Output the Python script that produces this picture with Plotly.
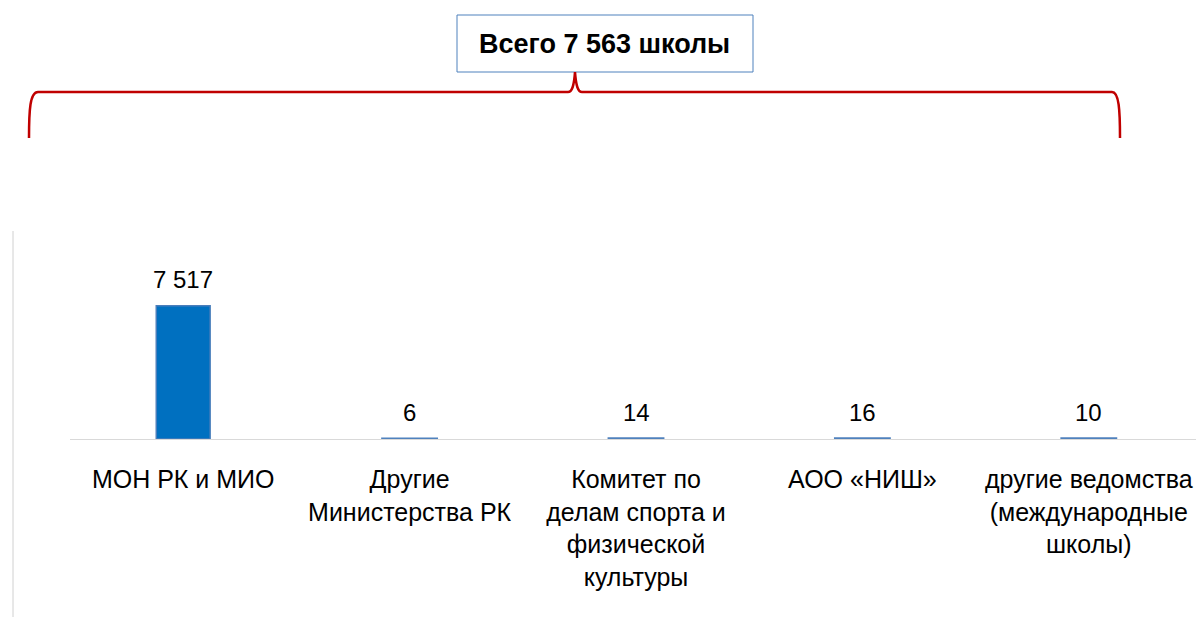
import plotly.graph_objects as go

categories = [
    "МОН РК и МИО",
    "Другие<br>Министерства РК",
    "Комитет по<br>делам спорта и<br>физической<br>культуры",
    "АОО «НИШ»",
    "другие ведомства<br>(международные<br>школы)",
]
values = [7517, 6, 14, 16, 10]
total_label = "Всего 7 563 школы"

# page has an 8px body margin; figure sized so that it ends at the window edge
OFF = 8
W, H = 1204 - OFF, 617 - OFF


def px(x):
    return (x - OFF) / W


def py(y):
    return 1 - (y - OFF) / H


def fmt(v):
    return f"{v:,}".replace(",", " ")


FONT = "Liberation Sans, Arial, sans-serif"

fig = go.Figure()
fig.add_trace(go.Bar(
    x=categories,
    y=values,
    marker=dict(
        color="#0070c0",
        line=dict(color=["#4a7ebb", "#4f81bd", "#4f81bd", "#4f81bd", "#4f81bd"],
                  width=[1.5, 3, 3, 3, 3]),
    ),
    width=0.238,
    hoverinfo="skip",
))

annotations = []
for c, v in zip(categories, values):
    annotations.append(dict(
        x=c, y=v, xref="x", yref="y", text=fmt(v), showarrow=False,
        yanchor="middle", yshift=26,
        font=dict(family=FONT, size=24, color="#000000"),
    ))

# Title box text
annotations.append(dict(
    x=px(604), y=py(44), xref="paper", yref="paper", text="<b>" + total_label + "</b>",
    showarrow=False, xanchor="center", yanchor="middle",
    font=dict(family=FONT, size=27, color="#000000"),
))


def pt(x, y):
    return f"{px(x):.5f},{py(y):.5f}"


brace = (
    "M " + pt(29, 138)
    + " C " + pt(29, 110) + " " + pt(30, 92) + " " + pt(38, 92)
    + " L " + pt(568, 92)
    + " C " + pt(572, 92) + " " + pt(574, 86) + " " + pt(575, 72)
    + " C " + pt(576, 86) + " " + pt(578, 92) + " " + pt(582, 92)
    + " L " + pt(1112, 92)
    + " C " + pt(1119, 92) + " " + pt(1120, 110) + " " + pt(1120, 138)
)

shapes = [
    dict(type="rect", xref="paper", yref="paper",
         x0=px(457), x1=px(753), y0=py(72), y1=py(15),
         line=dict(color="#4f81bd", width=1), fillcolor="white"),
    dict(type="path", xref="paper", yref="paper", path=brace,
         line=dict(color="#c00000", width=2.5)),
    dict(type="line", xref="paper", yref="paper",
         x0=px(13), x1=px(13), y0=0, y1=py(231),
         line=dict(color="#d0d0d0", width=1)),
]

fig.update_layout(
    template="none",
    width=W, height=H, autosize=False,
    margin=dict(l=0, r=0, t=0, b=0, pad=0),
    paper_bgcolor="white", plot_bgcolor="white",
    showlegend=False,
    annotations=annotations,
    shapes=shapes,
    xaxis=dict(
        domain=[px(70), px(1202)],
        type="category",
        showline=True, linecolor="#d9d9d9", linewidth=1,
        showgrid=False, zeroline=False,
        ticks="", tickangle=0,
        ticklabelstandoff=18,
        tickfont=dict(family=FONT, size=25, color="#000000"),
        automargin=False,
        layer="below traces",
    ),
    yaxis=dict(
        domain=[py(439), py(230)],
        range=[0, 11800],
        visible=False,
        showgrid=False, zeroline=False,
        automargin=False,
    ),
)

fig.write_html("out.html")
